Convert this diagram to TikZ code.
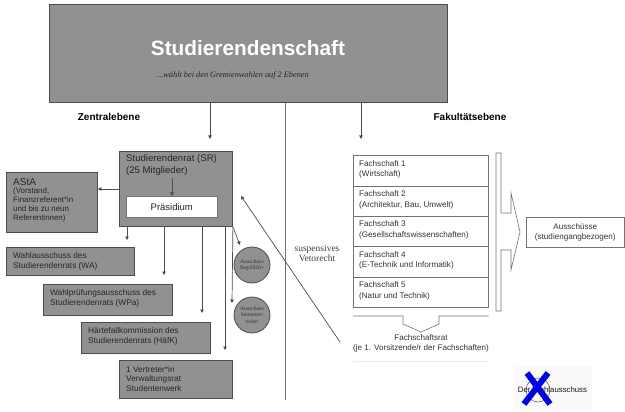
\documentclass[tikz,border=0pt]{standalone}
\usepackage{fontspec}
\setmainfont{Liberation Serif}
\setsansfont{Liberation Sans}
\usetikzlibrary{arrows.meta}
\begin{document}
\begin{tikzpicture}[x=1pt,y=-1pt,
  gbox/.style={draw=black!70, fill=black!43, line width=0.9pt, inner sep=0, anchor=north west},
  wbox/.style={draw=black!55, fill=white, line width=0.6pt, inner sep=0, anchor=north west},
  txt/.style={font=\sffamily\fontsize{8.3}{9.5}\selectfont, text=black!85, align=left, inner sep=0},
  ftxt/.style={font=\sffamily\fontsize{8.1}{10.5}\selectfont, text=black!80, align=left, inner sep=0, anchor=west},
  circ/.style={circle, draw=black!70, fill=black!43, line width=0.8pt, minimum size=36pt, inner sep=0,
     font=\fontsize{5.6}{6.2}\selectfont, align=center, text=black!80},
  conn/.style={draw=black!70, line width=0.7pt},
  arr/.style={conn, -{Triangle[length=3.5pt,width=3.5pt]}},
  head/.style={font=\sffamily\bfseries\fontsize{10}{12}\selectfont, inner sep=0}
]
\useasboundingbox (0,0) rectangle (625,412);

% top box
\node[gbox, minimum width=398pt, minimum height=98pt] (top) at (49,4) {};
\node[font=\sffamily\bfseries\fontsize{20.8}{24}\selectfont, text=white, inner sep=0] (title) at (248,48) {Studierendenschaft};
\node[font=\itshape\fontsize{8.3}{10}\selectfont, text=black!85, inner sep=0] (sub) at (233,75) {...wählt bei den Gremienwahlen auf 2 Ebenen};

% divider
\coordinate (divEnd) at (285,400);
\draw[conn, draw=black!55] (top.south -| divEnd) -- (divEnd);

% level headings
\node[head] (zentral) at (109,117) {Zentralebene};
\node[head] (fakult) at (470,117) {Fakultätsebene};

% arrows from top
\coordinate (zA) at (210,139);
\coordinate (fA) at (361,139);
\draw[arr] (top.south -| zA) -- (zA);
\draw[arr] (top.south -| fA) -- (fA);

% Studierendenrat
\node[gbox, minimum width=113pt, minimum height=75pt] (sr) at (119,151) {};
\node[txt, font=\sffamily\fontsize{9.6}{12}\selectfont, anchor=north west] (srtxt) at (126,154) {Studierendenrat (SR)\\(25 Mitglieder)};
\node[wbox, minimum width=91pt, minimum height=21pt] (pras) at (126,196) {};
\node[font=\sffamily\fontsize{9.5}{11}\selectfont, text=black!85, inner sep=0] (prastxt) at (pras.center) {Präsidium};
\coordinate (pA) at (172,178);
\draw[arr] (pA) -- (pras.north -| pA);

% AStA
\node[gbox, minimum width=91pt, minimum height=60pt] (asta) at (6,172) {};
\node[txt, font=\sffamily\fontsize{10}{12}\selectfont, anchor=west] (astah) at (13,182) {AStA};
\node[txt, font=\sffamily\fontsize{7.9}{9}\selectfont, anchor=north west] (astatxt) at (13,188) {(Vorstand,\\Finanzreferent*in\\und bis zu neun\\Referentinnen)};
\coordinate (aA) at (97,189);
\draw[arr] (sr.west |- aA) -- (asta.east |- aA);

% committees
\node[gbox, minimum width=128pt, minimum height=28pt] (wa) at (6,247) {};
\node[txt, anchor=west] (watxt) at (13,261.5) {Wahlausschuss des\\Studierendenrats (WA)};
\node[gbox, minimum width=129pt, minimum height=31pt] (wpa) at (43,284) {};
\node[txt, anchor=west] (wpatxt) at (50,298.5) {Wahlprüfungsausschuss des\\Studierendenrats (WPa)};
\node[gbox, minimum width=129pt, minimum height=31pt] (hafk) at (81,322) {};
\node[txt, anchor=west] (hafktxt) at (88,336.5) {Härtefallkommission des\\Studierendenrats (HäfK)};
\node[gbox, minimum width=113pt, minimum height=38pt] (vert) at (119,360) {};
\node[txt, anchor=west] (verttxt) at (126,379) {1 Vertreter*in\\Verwaltungsrat\\Studentenwerk};

\coordinate (aWA) at (127,240);
\coordinate (aWPa) at (164,275);
\coordinate (aHafk) at (202,313);
\coordinate (aVert) at (225,350);
\draw[arr] (sr.south -| aWA) -- (aWA);
\draw[arr] (sr.south -| aWPa) -- (aWPa);
\draw[arr] (sr.south -| aHafk) -- (aHafk);
\draw[arr] (sr.south -| aVert) -- (aVert);

% circles
\node[circ] (step) at (252,265) {Ausschuss\\Step2020+};
\node[circ] (sem) at (252,315) {Ausschuss\\Semester-\\ticket};
\coordinate (aStep) at (240,245);
\coordinate (aSem) at (232,303);
\draw[arr] (sr.south east) -- (aStep);
\draw[arr] (sr.south east) -- (aSem);

% veto
\coordinate (vetoStart) at (340,342);
\coordinate (vetoEnd) at (241,196);
\draw[arr] (vetoStart) -- (vetoEnd);
\node[font=\fontsize{9.5}{10.5}\selectfont, text=black!75, align=center, inner sep=0] (veto) at (317,253.5) {suspensives\\Vetorecht};

% Fachschaften
\node[wbox, minimum width=135pt, minimum height=31pt] (fs1) at (353,155) {};
\node[wbox, minimum width=135pt, minimum height=30pt] (fs2) at (353,186) {};
\node[wbox, minimum width=135pt, minimum height=30pt] (fs3) at (353,216) {};
\node[wbox, minimum width=135pt, minimum height=31pt] (fs4) at (353,246) {};
\node[wbox, minimum width=135pt, minimum height=30pt] (fs5) at (353,277) {};
\node[ftxt] (fs1t) at ([xshift=6pt,yshift=1.5pt]fs1.west) {Fachschaft 1\\(Wirtschaft)};
\node[ftxt] (fs2t) at ([xshift=6pt,yshift=1.5pt]fs2.west) {Fachschaft 2\\(Architektur, Bau, Umwelt)};
\node[ftxt] (fs3t) at ([xshift=6pt,yshift=1.5pt]fs3.west) {Fachschaft 3\\(Gesellschaftswissenschaften)};
\node[ftxt] (fs4t) at ([xshift=6pt,yshift=1.5pt]fs4.west) {Fachschaft 4\\(E-Technik und Informatik)};
\node[ftxt] (fs5t) at ([xshift=6pt,yshift=1.5pt]fs5.west) {Fachschaft 5\\(Natur und Technik)};

% bracket arrow to Ausschüsse
\draw[draw=black!55, line width=0.6pt, fill=white]
  (496,153) -- (501,153) -- (501,213) -- (511,213) -- (511,193) -- (520,232)
  -- (511,270) -- (511,250) -- (501,250) -- (501,311) -- (496,311) -- cycle;
\node[wbox, minimum width=98pt, minimum height=30pt] (aus) at (526,217) {};
\node[font=\sffamily\fontsize{8.1}{10.5}\selectfont, text=black!80, align=center, inner sep=0] (austxt) at (aus.center) {Ausschüsse\\(studiengangbezogen)};

% bottom bracket
\draw[draw=black!55, line width=0.6pt]
  (fs5.south west |- 0,316) -- (403,316) -- (403,324) -- (421,332) -- (439,324) -- (439,316) -- (fs5.south east |- 0,316);
\node[font=\sffamily\fontsize{8.1}{10}\selectfont, text=black!80, align=center, inner sep=0] (fsr) at (421,343) {Fachschaftsrat\\(je 1. Vorsitzende/r der Fachschaften)};
\draw[draw=black!8, line width=0.6pt] (353,361) -- (488,361);

% crossed out Wahlausschuss
\fill[black!2] (514,366) rectangle (592,410);
\node[circle, draw=black!60, line width=0.6pt, minimum size=24pt, inner sep=0] (wcirc) at (538,390) {};
\node[font=\sffamily\fontsize{7.8}{9}\selectfont, text=black!90, inner sep=0] (wtxt) at (552.5,390) {Der Wahlausschuss};
\draw[blue!90!black, line width=6pt] (527,373) -- (550,404);
\draw[blue!90!black, line width=6pt] (548,373) -- (524,404);
\end{tikzpicture}
\end{document}
